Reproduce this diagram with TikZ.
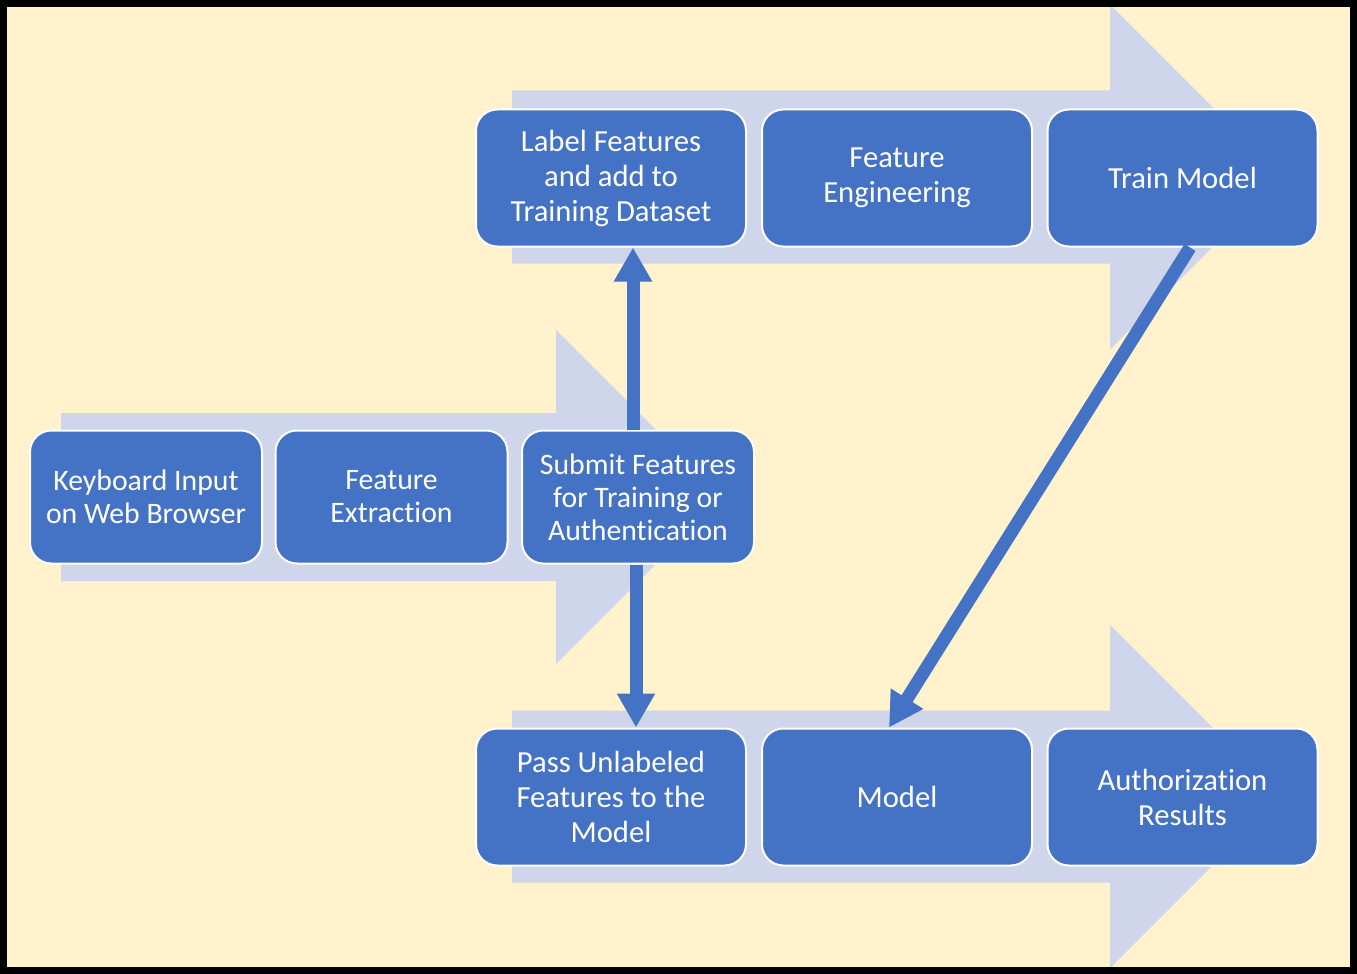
\documentclass[tikz,border=0pt]{standalone}
\usepackage{fontspec}
\setmainfont{Carlito}[Ligatures=NoCommon]
\usetikzlibrary{arrows.meta}
\definecolor{paper}{HTML}{FFF2CC}
\definecolor{chevron}{HTML}{CFD5EA}
\definecolor{stepblue}{HTML}{4472C4}

\begin{document}
\begin{tikzpicture}[x=0.75pt, y=-0.75pt,
  stepbox/.style={draw=white, line width=1.5pt, fill=stepblue, rounded corners=16pt,
    text=white, align=center, inner sep=0pt, minimum width=202.5pt, minimum height=102.75pt,
    font=\fontsize{23}{26.25}\selectfont},
  smallbox/.style={stepbox, minimum width=174pt, minimum height=99.75pt,
    font=\fontsize{22.3}{24.75}\selectfont},
  link/.style={stepblue, line width=9.75pt, -{Triangle[width=27pt,length=25.5pt]}}]

  \useasboundingbox (0,0) rectangle (1357,974);
  \fill[paper] (0,0) rectangle (1357,974);

  % big background arrows: start, neck, tip, centre, half shaft, half head
  \foreach \xa/\xb/\xt/\yc/\hs/\hh in {512/1110/1282.5/177/86.5/172.5,
                                        61/556/723/497/84/167,
                                        512/1110/1281.5/796.5/86/171.5}
    \fill[chevron] (\xa,{\yc-\hs}) -- (\xb,{\yc-\hs}) -- (\xb,{\yc-\hh}) -- (\xt,\yc)
      -- (\xb,{\yc+\hh}) -- (\xb,{\yc+\hs}) -- (\xa,{\yc+\hs}) -- cycle;

  % training row
  \node[stepbox] (label)    at (611,178)    {Label Features\\and add to\\Training Dataset};
  \node[stepbox] (engineer) at (897,178)    {Feature\\Engineering};
  \node[stepbox] (train)    at (1182.5,178) {Train Model};

  % input row
  \node[smallbox] (keyboard) at (146,497)   {Keyboard Input\\on Web Browser};
  \node[smallbox] (extract)  at (391.5,497) {Feature\\Extraction};
  \node[smallbox] (submit)   at (638,497)   {Submit Features\\for Training or\\Authentication};

  % authentication row
  \node[stepbox] (pass)    at (611,797)    {Pass Unlabeled\\Features to the\\Model};
  \node[stepbox] (model)   at (897,797)    {Model};
  \node[stepbox] (results) at (1182.5,797) {Authorization\\Results};

  \draw[link] ([xshift=-3.75pt]submit.north) -- ([xshift=-3.75pt]submit.north |- label.south);
  \draw[link] ([xshift=-1.5pt]submit.south) -- ([xshift=-1.5pt]submit.south |- pass.north);
  \draw[link] ([xshift=5.6pt]train.south) -- ([xshift=-6pt]model.north);

  \draw[line width=5.25pt] (3.5,3.5) rectangle (1353.5,970.5);

\end{tikzpicture}
\end{document}
